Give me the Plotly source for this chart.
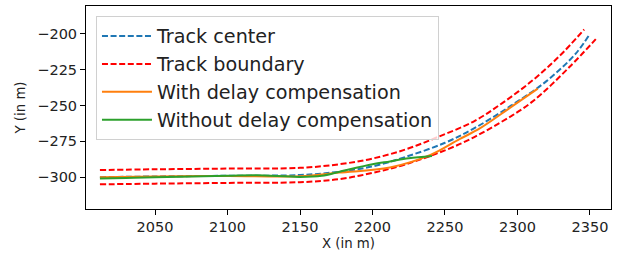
import plotly.graph_objects as go

# Track center
center_x = [2012, 2050, 2100, 2150, 2177, 2200, 2223, 2250, 2270, 2295, 2320, 2340, 2350]
center_y = [-300, -299.5, -299, -298.5, -296.2, -292.5, -285.8, -276, -266, -250.5, -233, -214, -200]

# Track boundaries (left / right)
left_x = [2012, 2050, 2100, 2150, 2177, 2200, 2223, 2245, 2270, 2290, 2311, 2329, 2346]
left_y = [-295, -294.5, -294, -293.5, -291, -287, -280.6, -272, -261, -248, -232, -215.5, -197]
right_x = [2012, 2050, 2100, 2150, 2177, 2200, 2223, 2260, 2288, 2310, 2336, 2354]
right_y = [-305, -304.5, -304, -303.5, -301.4, -297, -291, -277, -262, -247.5, -223, -203.7]

# With delay compensation
with_x = [2012, 2050, 2100, 2150, 2177, 2212, 2240, 2260, 2274, 2295, 2314]
with_y = [-300, -299.5, -299.2, -299.3, -296.8, -293.3, -284.5, -273.5, -266, -251.5, -238.2]

# Without delay compensation
without_x = [2012, 2030, 2050, 2100, 2120, 2150, 2165, 2178, 2200, 2212, 2225, 2241]
without_y = [-301, -300.6, -300, -299, -298.7, -299.8, -299, -296, -291, -289, -286.8, -285.2]

x_ticks = [2050, 2100, 2150, 2200, 2250, 2300, 2350]
y_ticks = [-300, -275, -250, -225, -200]

dash = "6px,2.6px"
fig = go.Figure()
fig.add_trace(go.Scatter(x=center_x, y=center_y, mode="lines", name="Track center",
                         line=dict(color="#1f77b4", width=2, dash=dash, shape="spline"), legendgroup="a"))
fig.add_trace(go.Scatter(x=left_x, y=left_y, mode="lines", name="Track boundary",
                         line=dict(color="red", width=2, dash=dash, shape="spline"), legendgroup="b"))
fig.add_trace(go.Scatter(x=right_x, y=right_y, mode="lines", name="Track boundary", showlegend=False,
                         line=dict(color="red", width=2, dash=dash, shape="spline"), legendgroup="b"))
fig.add_trace(go.Scatter(x=with_x, y=with_y, mode="lines", name="With delay compensation",
                         line=dict(color="#ff7f0e", width=2, shape="spline"), legendgroup="c"))
fig.add_trace(go.Scatter(x=without_x, y=without_y, mode="lines", name="Without delay compensation",
                         line=dict(color="#2ca02c", width=2, shape="spline"), legendgroup="d"))

fig.update_layout(
    width=628, height=254,
    margin=dict(l=86, r=17, t=5, b=44),
    plot_bgcolor="white", paper_bgcolor="white",
    font=dict(family="DejaVu Sans", color="#222"),
    showlegend=True,
    legend=dict(x=0.019, y=0.951, xanchor="left", yanchor="top",
                bgcolor="rgba(255,255,255,0.8)", bordercolor="#d0d0d0", borderwidth=1,
                font=dict(size=19.2, color="#222"), tracegroupgap=0, traceorder="grouped",
                itemwidth=50),
)
fig.update_xaxes(range=[2002.4, 2364.5], tickvals=x_ticks, showgrid=False, zeroline=False,
                 showline=True, linecolor="black", linewidth=1, mirror=True,
                 ticks="outside", ticklen=5, tickcolor="black", tickfont=dict(size=14.5),
                 title=dict(text="X (in m)", font=dict(size=13.3), standoff=4))
fig.update_yaxes(range=[-322.2, -180.6], tickvals=y_ticks,
                 ticktext=["\u2212" + str(abs(v)) for v in y_ticks],
                 showgrid=False, zeroline=False,
                 showline=True, linecolor="black", linewidth=1, mirror=True,
                 ticks="outside", ticklen=5, tickcolor="black", tickfont=dict(size=14.5),
                 title=dict(text="Y (in m)", font=dict(size=13.3), standoff=8))
fig.write_html("out.html", config={"displayModeBar": False},
               post_script="document.body.style.margin='0';document.body.style.overflow='hidden';")
